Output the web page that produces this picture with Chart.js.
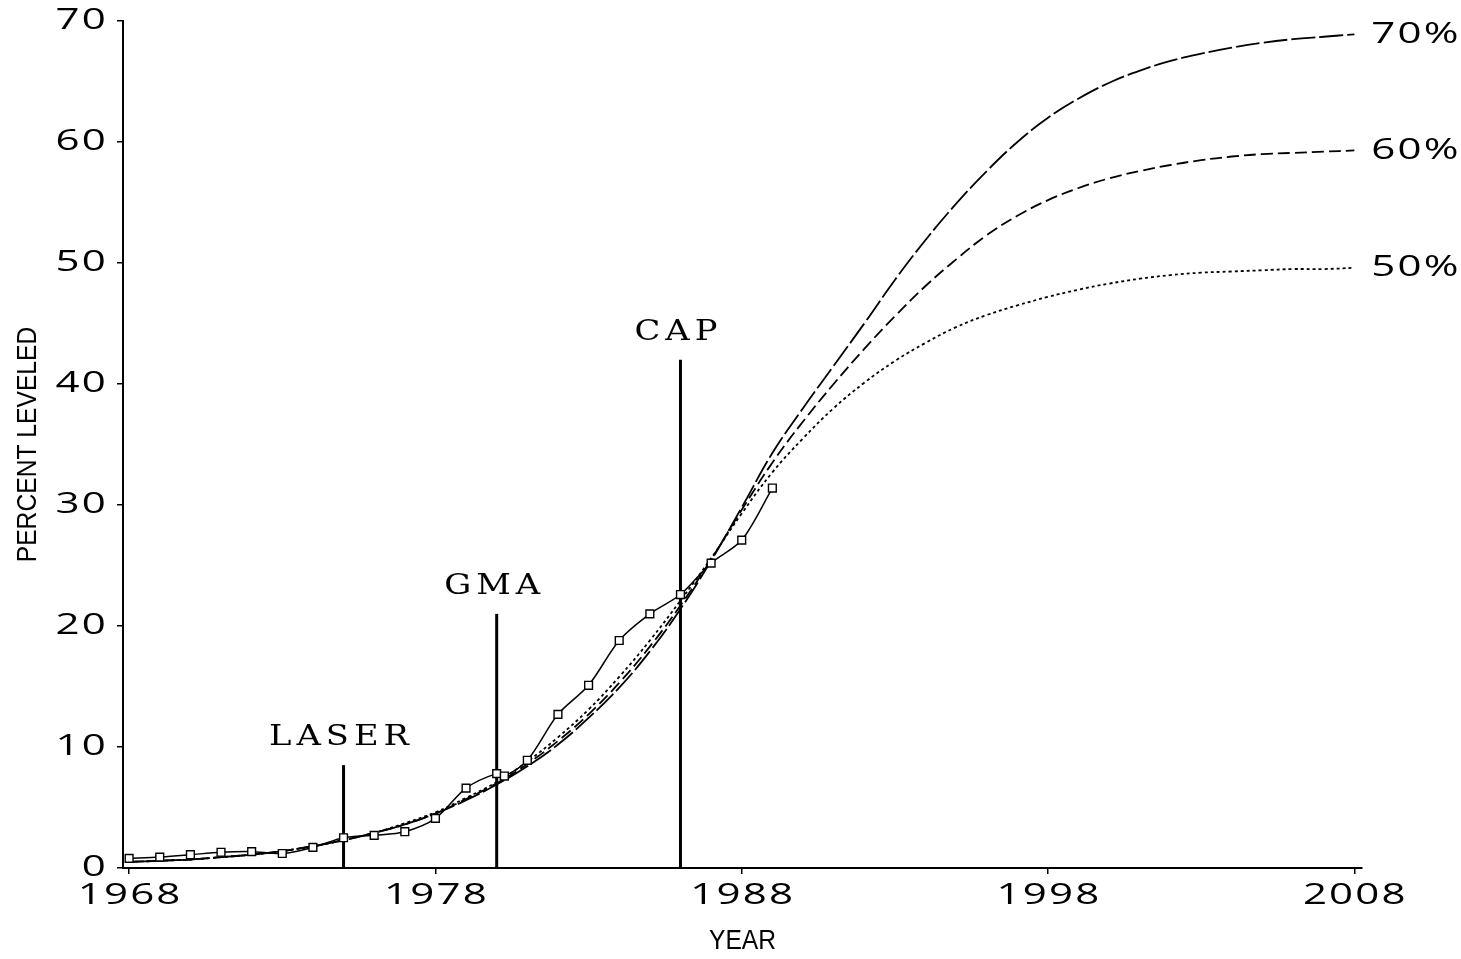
<!DOCTYPE html>
<html>
<head>
<meta charset="utf-8">
<script src="https://cdn.jsdelivr.net/npm/chart.js@4.4.1/dist/chart.umd.min.js"></script>
<style>
  html, body { margin: 0; padding: 0; background: #fff; }
  #wrap { width: 1461px; height: 959px; position: relative; }
</style>
</head>
<body>
<div id="wrap"><canvas id="chart"></canvas></div>
<script>
// ---- data ----
const curveYears = [1968,1969,1970,1971,1972,1973,1974,1975,1976,1977,1978,1979,1980,1981,1982,1983,1984,1985,1986,1987,1988,1989,1990,1991,1992,1993,1994,1995,1996,1997,1998,1999,2000,2001,2002,2003,2004,2005,2006,2007,2008];
const curve70 = [0.5,0.6,0.7,0.9,1.1,1.4,1.8,2.3,2.9,3.6,4.5,5.6,6.9,8.4,10.2,12.4,14.9,17.9,21.4,25.4,29.8,34.3,38.0,41.5,45.0,48.6,51.9,54.9,57.6,60.0,62.0,63.6,64.9,65.9,66.7,67.3,67.8,68.2,68.5,68.7,68.9];
const curve60 = [0.5,0.6,0.7,0.9,1.1,1.4,1.8,2.3,2.9,3.6,4.5,5.7,7.0,8.6,10.5,12.7,15.3,18.3,21.7,25.5,29.6,33.5,36.9,40.0,42.9,45.6,48.1,50.3,52.3,53.9,55.2,56.2,57.0,57.6,58.1,58.5,58.8,59.0,59.1,59.2,59.3];
const curve50 = [0.5,0.6,0.7,0.9,1.1,1.4,1.8,2.3,2.9,3.7,4.6,5.8,7.1,8.8,10.8,13.1,15.8,18.8,22.1,25.6,29.3,32.7,35.5,38.0,40.1,41.9,43.4,44.7,45.7,46.5,47.2,47.8,48.3,48.7,49.0,49.2,49.3,49.4,49.5,49.5,49.6];
const curveLabels = ['70%', '60%', '50%'];

const dataYears = [1968,1969,1970,1971,1972,1973,1974,1975,1976,1977,1978,1979,1980,1980.25,1981,1982,1983,1984,1985,1986,1987,1988,1989];
const dataValues = [0.8,0.9,1.1,1.3,1.35,1.2,1.7,2.5,2.7,3.0,4.1,6.6,7.8,7.6,8.9,12.7,15.1,18.8,21.0,22.6,25.2,27.1,31.4];

const eventYears = [1975, 1980, 1986];
const eventHeights = [8.5, 21, 42];
const eventLabels = ['LASER', 'GMA', 'CAP'];

const xTicks = [1968, 1978, 1988, 1998, 2008];
const yTicks = [0, 10, 20, 30, 40, 50, 60, 70];

const toXY = (xs, ys) => xs.map((x, i) => ({ x: x, y: ys[i] }));

// wide lettering of the tick labels
const WIDE_FONT = '29px "Open Sans"';
const WIDE_SCALE = 1.45;

// curves
const curveStyles = [[24, 4], [12, 5], [3, 3]];
const datasets = [curve70, curve60, curve50].map((vals, i) => ({
    label: curveLabels[i],
    data: toXY(curveYears, vals),
    borderColor: '#000',
    borderWidth: 1.8,
    borderDash: curveStyles[i],
    pointRadius: 0,
    tension: 0.4,
    order: 2
}));

// event markers (vertical lines)
eventYears.forEach((yr, i) => {
    datasets.push({
        label: eventLabels[i],
        data: [{ x: yr, y: 0 }, { x: yr, y: eventHeights[i] }],
        borderColor: '#000',
        borderWidth: 3,
        pointRadius: 0,
        order: 1,
        isEvent: true
    });
});

// observed series
datasets.push({
    label: 'observed',
    data: toXY(dataYears, dataValues),
    borderColor: '#000',
    borderWidth: 1.5,
    backgroundColor: '#fff',
    pointStyle: 'rect',
    pointRadius: 5.5,
    pointBorderWidth: 1.4,
    pointBackgroundColor: '#fff',
    tension: 0.3,
    order: 0
});

function wideText(ctx, text, x, y, align) {
    ctx.save();
    ctx.translate(x, y);
    ctx.scale(WIDE_SCALE, 1);
    ctx.font = WIDE_FONT;
    ctx.letterSpacing = '1.5px';
    ctx.textAlign = align;
    ctx.textBaseline = 'middle';
    ctx.fillText(text, 0, 0);
    ctx.restore();
}

const textPlugin = {
    id: 'texts',
    afterDraw(chart) {
        const ctx = chart.ctx;
        const area = chart.chartArea;
        const xs = chart.scales.x, ys = chart.scales.y;
        ctx.save();
        ctx.fillStyle = '#000';

        // tick labels, placed by the scales
        xs.ticks.forEach(t => wideText(ctx, String(t.value), xs.getPixelForValue(t.value) + 1, 896, 'center'));
        ys.ticks.forEach(t => wideText(ctx, String(t.value), 108, ys.getPixelForValue(t.value), 'right'));

        // end labels of the curves
        for (let i = 0; i < 3; i++) {
            const pts = chart.getDatasetMeta(i).data;
            const last = pts[pts.length - 1];
            wideText(ctx, curveLabels[i], last.x + 17, last.y, 'left');
        }

        // event labels
        chart.data.datasets.forEach((ds, i) => {
            if (!ds.isEvent) return;
            const top = chart.getDatasetMeta(i).data[1];
            ctx.save();
            ctx.translate(top.x - 2, top.y - 20);
            ctx.scale(1.25, 1);
            ctx.font = '27px "DejaVu Serif"';
            ctx.letterSpacing = '4px';
            ctx.textAlign = 'center';
            ctx.textBaseline = 'alphabetic';
            ctx.fillText(ds.label, 0, 0);
            ctx.restore();
        });

        // axis titles
        ctx.font = '28px "Liberation Sans"';
        ctx.textAlign = 'center';
        ctx.textBaseline = 'middle';
        ctx.save();
        ctx.translate((area.left + area.right) / 2, 941);
        ctx.scale(0.88, 1);
        ctx.fillText('YEAR', 0, 0);
        ctx.restore();
        ctx.translate(28, (area.top + area.bottom) / 2);
        ctx.rotate(-Math.PI / 2);
        ctx.scale(0.88, 1);
        ctx.fillText('PERCENT LEVELED', 0, 0);
        ctx.restore();
    }
};

new Chart(document.getElementById('chart'), {
    type: 'line',
    data: { datasets: datasets },
    options: {
        responsive: true,
        maintainAspectRatio: false,
        animation: false,
        layout: { padding: { left: 0, right: 99, top: 21, bottom: 0 } },
        plugins: { legend: { display: false }, tooltip: { enabled: false } },
        scales: {
            x: {
                type: 'linear',
                min: 1967.8,
                max: 2008.25,
                afterBuildTicks: (scale) => { scale.ticks = xTicks.map(v => ({ value: v })); },
                afterFit: (scale) => { scale.height = 91; },
                ticks: { display: false },
                grid: { drawOnChartArea: false, drawTicks: true, tickLength: 6, color: '#000', lineWidth: 1.5 },
                border: { display: true, color: '#000', width: 2 }
            },
            y: {
                min: 0,
                max: 70,
                afterBuildTicks: (scale) => { scale.ticks = yTicks.map(v => ({ value: v })); },
                afterFit: (scale) => { scale.width = 123; },
                ticks: { display: false },
                grid: { drawOnChartArea: false, drawTicks: true, tickLength: 6, color: '#000', lineWidth: 1.5 },
                border: { display: true, color: '#000', width: 2 }
            }
        }
    },
    plugins: [textPlugin]
});
</script>
</body>
</html>
